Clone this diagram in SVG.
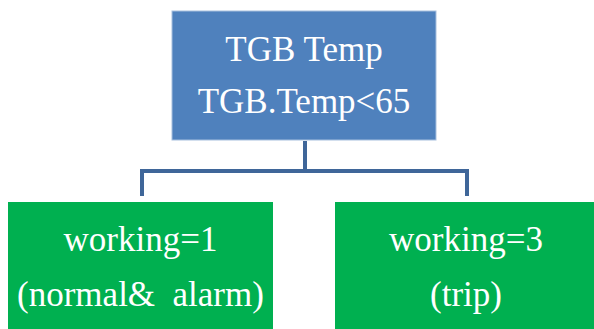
<svg xmlns="http://www.w3.org/2000/svg" width="594" height="329" viewBox="0 0 594 329">
<style>
.t{font-family:"Liberation Serif","Times New Roman",serif;font-size:35px;fill:#fff;text-anchor:middle}
.c{fill:none;stroke:#3F6699;stroke-width:4}
</style>
<rect width="594" height="329" fill="#fff"/>
<g id="connectors">
<path class="c" d="M305 141 V171 M142 196 V171 H467 V196"/>
</g>
<g id="root">
<rect x="172" y="11" width="264" height="129" fill="#4F81BD" stroke="#A7BFDE" stroke-width="1"/>
<text class="t" x="304" y="61">TGB Temp</text>
<text class="t" x="304" y="113">TGB.Temp&lt;65</text>
</g>
<g id="left">
<rect x="8" y="202" width="265" height="130" fill="#00B050"/>
<text class="t" x="140.5" y="251">working=1</text>
<text class="t" x="140.5" y="306">(normal&amp;&#160; alarm)</text>
</g>
<g id="right">
<rect x="335" y="202" width="262" height="130" fill="#00B050"/>
<text class="t" x="466" y="251">working=3</text>
<text class="t" x="466" y="306">(trip)</text>
</g>
</svg>
